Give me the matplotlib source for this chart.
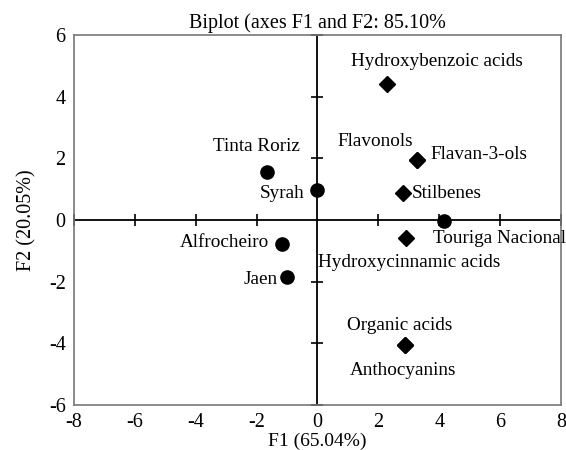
import numpy as np
import matplotlib.pyplot as plt

plt.rcParams['font.family'] = ['Liberation Serif', 'DejaVu Serif']
plt.rcParams['axes.unicode_minus'] = False

# wine varieties (circles)
var_names = ["Tinta Roriz", "Syrah", "Alfrocheiro", "Jaen", "Touriga Nacional"]
var_x = [-1.65, 0.0, -1.18, -1.01, 4.15]
var_y = [1.57, 0.97, -0.78, -1.84, -0.03]

# compounds (diamonds)
comp_names = ["Hydroxybenzoic acids", "Flavonols", "Flavan-3-ols", "Stilbenes",
              "Hydroxycinnamic acids", "Organic acids", "Anthocyanins"]
comp_x = [2.28, 3.26, 3.26, 2.82, 2.9, 2.88, 2.88]
comp_y = [4.40, 1.95, 1.95, 0.87, -0.57, -4.06, -4.06]

xticks = [-8, -6, -4, -2, 0, 2, 4, 6, 8]
yticks = [-6, -4, -2, 0, 2, 4, 6]

fig = plt.figure(figsize=(5.66, 4.5), dpi=100)
ax = fig.add_axes([0.1307, 0.1, 0.8604, 0.8222])

# central axes with cross ticks
ax.axhline(0, color='black', lw=1.3, zorder=1)
ax.axvline(0, color='black', lw=1.3, zorder=1)
xt = [t for t in xticks if t != 0]
yt = [t for t in yticks if t != 0]
ax.plot(xt, [0] * len(xt), ls='none', marker='|', ms=8, mew=1.2, color='black', clip_on=False)
ax.plot([0] * len(yt), yt, ls='none', marker='_', ms=8, mew=1.2, color='black', clip_on=False)

ax.plot(var_x, var_y, ls='none', marker='o', ms=9.5, color='black', zorder=3)
ax.plot(comp_x, comp_y, ls='none', marker='D', ms=8, color='black', zorder=3)

fs = 13.8
labels = [
    ("Hydroxybenzoic acids", 3.93, 5.13, 'center'),
    ("Tinta Roriz", -2.0, 2.37, 'center'),
    ("Flavonols", 1.89, 2.54, 'center'),
    ("Flavan-3-ols", 3.7, 2.11, 'left'),
    ("Syrah", -0.44, 0.87, 'right'),
    ("Stilbenes", 3.1, 0.87, 'left'),
    ("Touriga Nacional", 3.78, -0.6, 'left'),
    ("Alfrocheiro", -1.6, -0.74, 'right'),
    ("Hydroxycinnamic acids", 0.03, -1.39, 'left'),
    ("Jaen", -1.32, -1.93, 'right'),
    ("Organic acids", 2.7, -3.41, 'center'),
    ("Anthocyanins", 2.81, -4.87, 'center'),
]
for txt, x, y, ha in labels:
    ax.text(x, y, txt, ha=ha, va='center', fontsize=fs, clip_on=False)

ax.set_xlim(-8, 8)
ax.set_ylim(-6, 6)
ax.set_xticks(xticks)
ax.set_yticks(yticks)
ax.tick_params(length=0, labelsize=14.5, pad=6)
for s in ax.spines.values():
    s.set_color('#777777')
    s.set_linewidth(1.2)

ax.set_title("Biplot (axes F1 and F2: 85.10%", fontsize=14.5, pad=5)
ax.set_xlabel("F1 (65.04%)", fontsize=14, labelpad=0)
ax.set_ylabel("F2 (20.05%)", fontsize=14.5, labelpad=9)

fig.savefig("out.png", dpi=100)
